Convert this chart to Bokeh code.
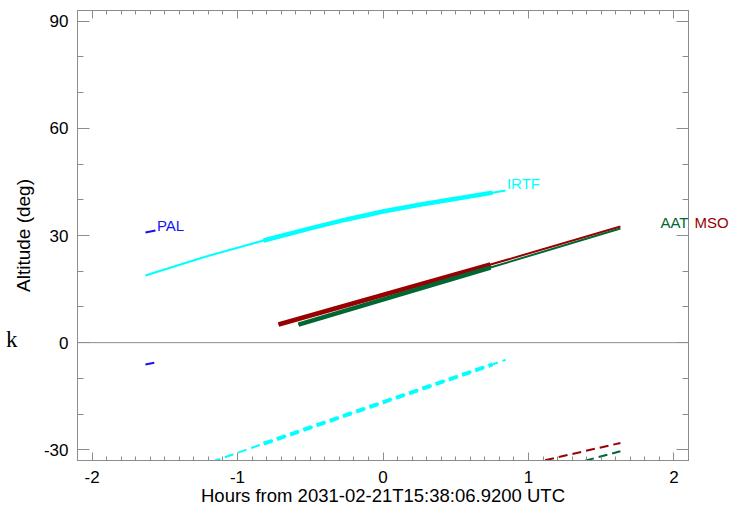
import numpy as np
from bokeh.plotting import figure
from bokeh.models import Range1d, LinearAxis, FixedTicker, Span, Label
from bokeh.embed import file_html
from bokeh.resources import INLINE

# ---------------- data ----------------
obs_window = [-0.83, 0.76]  # hours: thick part of each track

pal_t = [-1.633, -1.564]
pal_alt = [30.83, 31.39]
pal_dash = [-6.13, -5.57]

irtf_t = [-1.633, -1.227, -0.821, -0.5, -0.25, 0.0, 0.25, 0.5, 0.753, 0.842]
irtf_alt = [18.8, 24.0, 28.6, 32.0, 34.5, 36.7, 38.6, 40.3, 42.0, 42.6]
irtf_dash_t = [-1.633, -1.151, -0.821, 0.0, 0.753, 0.842]
irtf_dash = [-39.8, -33.0, -28.3, -16.7, -6.1, -4.8]

mso_t = [-0.718, 0.739, 1.632]
mso_alt = [5.07, 21.87, 32.5]
mso_dash_t = [0.739, 1.632]
mso_dash = [-36.4, -28.1]

aat_t = [-0.581, 0.739, 1.632]
aat_alt = [5.07, 21.03, 31.95]
aat_dash_t = [0.739, 1.632]
aat_dash = [-40.2, -30.4]

x_ticks = [-2, -1, 0, 1, 2]
y_ticks = [-30, 0, 30, 60, 90]
x_title = "Hours from 2031-02-21T15:38:06.9200 UTC"
y_title = "Altitude (deg)"

BLUE = "#1414f0"
CYAN = "#00ffff"
RED = "#990000"
GREEN = "#006633"
GRAY = "#8c8c8c"
FONT = "Liberation Sans"

p = figure(width=744, height=511, x_range=Range1d(-2.1, 2.1), y_range=Range1d(-33, 93),
           output_backend="svg", toolbar_location=None,
           x_axis_type=None, y_axis_type=None,
           min_border_left=77, min_border_right=56, min_border_top=10, min_border_bottom=51)
p.grid.visible = False
p.outline_line_color = GRAY
p.background_fill_color = "white"
p.border_fill_color = "white"

minor_x = [round(v, 2) for v in np.arange(-2.1, 2.1001, 0.1)]
minor_y = list(range(-30, 91, 10))


def hyphen(ticks):
    return {t: str(t) for t in ticks if t < 0}


def make_axis(ticks, minors, tin, min_in):
    ax = LinearAxis(ticker=FixedTicker(ticks=ticks, minor_ticks=minors))
    ax.axis_line_color = GRAY
    ax.major_tick_line_color = GRAY
    ax.minor_tick_line_color = GRAY
    ax.major_tick_in = tin
    ax.major_tick_out = 0
    ax.minor_tick_in = min_in
    ax.minor_tick_out = 0
    ax.major_label_text_font = FONT
    ax.major_label_text_font_size = "17px"
    ax.major_label_text_color = "black"
    ax.major_label_overrides = hyphen(ticks)
    return ax


def mirror_axis(tick_list, length):
    # label-free axis: all marks given as minor ticks, so no tick labels exist
    ax = LinearAxis(ticker=FixedTicker(ticks=[], minor_ticks=tick_list))
    ax.axis_line_color = GRAY
    ax.minor_tick_line_color = GRAY
    ax.minor_tick_in = length
    ax.minor_tick_out = 0
    ax.major_tick_in = 0
    ax.major_tick_out = 0
    ax.major_label_standoff = 0
    return ax


xb = make_axis(x_ticks, minor_x, 8, 4)
xb.major_label_standoff = 10
xb.axis_label = x_title
xb.axis_label_text_font = FONT
xb.axis_label_text_font_size = "18.5px"
xb.axis_label_text_font_style = "normal"
xb.axis_label_text_color = "black"
xb.axis_label_standoff = -1
p.add_layout(xb, "below")
p.add_layout(mirror_axis(x_ticks, 8), "above")
p.add_layout(mirror_axis(minor_x, 4), "above")

yl = make_axis(y_ticks, minor_y, 12, 6)
yl.major_label_standoff = 9
yl.axis_label = y_title
yl.axis_label_text_font = FONT
yl.axis_label_text_font_size = "19px"
yl.axis_label_text_font_style = "normal"
yl.axis_label_text_color = "black"
yl.axis_label_standoff = 7
p.add_layout(yl, "left")
p.add_layout(mirror_axis(y_ticks, 12), "right")
p.add_layout(mirror_axis(minor_y, 6), "right")


def text_axis(tick, text, color, font, size, standoff):
    ax = LinearAxis(ticker=FixedTicker(ticks=[tick], minor_ticks=[]))
    ax.axis_line_color = None
    ax.major_tick_line_color = None
    ax.minor_tick_line_color = None
    ax.major_tick_in = 0
    ax.major_tick_out = 0
    ax.major_label_overrides = {tick: text}
    ax.major_label_text_color = color
    ax.major_label_text_font = font
    ax.major_label_text_font_size = size
    ax.major_label_standoff = standoff
    return ax


# stray "k" at far left, MSO label right of the frame
p.add_layout(text_axis(0.8, "k", "black", "Liberation Serif", "23px", -8), "left")
p.add_layout(text_axis(33.6, "MSO", RED, FONT, "15px", 6), "right")

p.add_layout(Span(location=0, dimension="width", line_color=GRAY, line_width=1))


def thick_part(t, a):
    t = np.asarray(t)
    a = np.asarray(a)
    m = (t >= obs_window[0]) & (t <= obs_window[1])
    return t[m], a[m]


# PAL
p.line(pal_t, pal_alt, line_color=BLUE, line_width=2)
p.line(pal_t, pal_dash, line_color=BLUE, line_width=2, line_dash="9 5")

# IRTF
p.line(irtf_t, irtf_alt, line_color=CYAN, line_width=2)
tt, aa = thick_part(irtf_t, irtf_alt)
p.line(tt, aa, line_color=CYAN, line_width=4.5)
p.line(irtf_dash_t, irtf_dash, line_color=CYAN, line_width=2, line_dash="9 5")
tt, aa = thick_part(irtf_dash_t, irtf_dash)
p.line(tt, aa, line_color=CYAN, line_width=4, line_dash="9 5")

# MSO
p.line(mso_t, mso_alt, line_color=RED, line_width=2)
tt, aa = thick_part(mso_t, mso_alt)
p.line(tt, aa, line_color=RED, line_width=4.5)
p.line(mso_dash_t, mso_dash, line_color=RED, line_width=2, line_dash="9 5")

# AAT
p.line(aat_t, aat_alt, line_color=GREEN, line_width=2)
tt, aa = thick_part(aat_t, aat_alt)
p.line(tt, aa, line_color=GREEN, line_width=4.5)
p.line(aat_dash_t, aat_dash, line_color=GREEN, line_width=2, line_dash="9 5")


def lab(x, y, text, color, align="left"):
    p.add_layout(Label(x=x, y=y, text=text, text_color=color, text_font=FONT,
                       text_font_size="15px", text_align=align, text_baseline="middle"))


lab(pal_t[-1] + 0.01, pal_alt[-1] + 1.4, "PAL", BLUE)
lab(irtf_t[-1] + 0.01, irtf_alt[-1] + 2.0, "IRTF", CYAN)
lab(2.1, 33.6, "AAT", GREEN, align="right")

open("out.html", "w").write(file_html(p, INLINE))
